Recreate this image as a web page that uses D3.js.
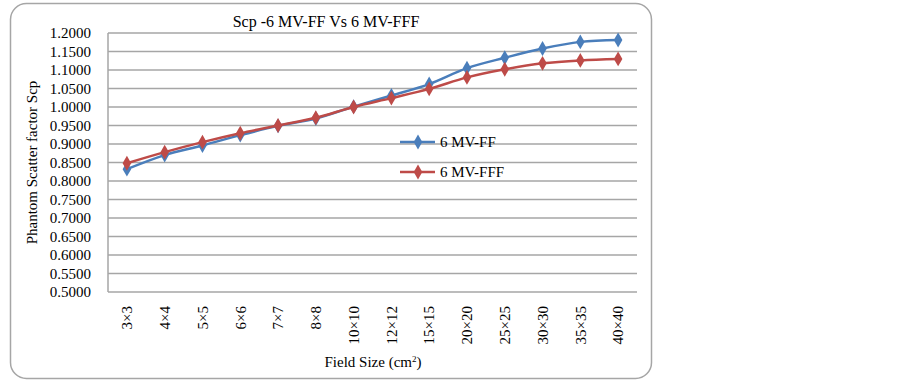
<!DOCTYPE html>
<html>
<head>
<meta charset="utf-8">
<script src="https://cdn.jsdelivr.net/npm/d3@7"></script>
<style>
  body { margin: 0; background: #fff; }
  svg text { font-family: 'Liberation Serif', 'Times New Roman', Times, serif !important; fill: #000; }
</style>
</head>
<body>
<div id="chart"></div>
<script>
var width = 903, height = 382;

// Data
var fieldSizes = ["3×3", "4×4", "5×5", "6×6", "7×7", "8×8", "10×10", "12×12", "15×15", "20×20", "25×25", "30×30", "35×35", "40×40"];
var scpFF  = [0.832, 0.870, 0.896, 0.924, 0.949, 0.969, 1.001, 1.031, 1.062, 1.105, 1.133, 1.158, 1.176, 1.181];
var scpFFF = [0.848, 0.878, 0.905, 0.929, 0.950, 0.971, 1.000, 1.024, 1.049, 1.080, 1.102, 1.118, 1.126, 1.130];
var yTicks = [0.50, 0.55, 0.60, 0.65, 0.70, 0.75, 0.80, 0.85, 0.90, 0.95, 1.00, 1.05, 1.10, 1.15, 1.20];
var seriesNames = ["6 MV-FF", "6 MV-FFF"];
var seriesColors = ["#4a7ebb", "#be4b48"];

var margin = {left: 108, right: 266, top: 33, bottom: 90};
var plotW = width - margin.left - margin.right,
    plotH = height - margin.top - margin.bottom;
var fs = "15px";

var svg = d3.select("#chart").append("svg")
    .attr("width", width)
    .attr("height", height)
    .attr("font-family", "Liberation Serif, serif");

// outer rounded frame
svg.append("rect")
    .attr("x", 10.5).attr("y", 3.5)
    .attr("width", 641).attr("height", 375)
    .attr("rx", 16).attr("ry", 16)
    .attr("fill", "#fff")
    .attr("stroke", "#a6a6a6")
    .attr("stroke-width", 1.5);

var g = svg.append("g").attr("transform", "translate(" + margin.left + "," + margin.top + ")");

var x = d3.scaleBand().domain(fieldSizes).range([0, plotW]);
var y = d3.scaleLinear().domain([0.5, 1.2]).range([plotH, 0]);

// gridlines
g.append("g")
  .selectAll("line")
  .data(yTicks)
  .enter().append("line")
    .attr("x1", 0).attr("x2", plotW)
    .attr("y1", function(d) { return y(d); })
    .attr("y2", function(d) { return y(d); })
    .attr("stroke", "#a6a6a6")
    .attr("stroke-width", 1.5);

// left axis line
g.append("line")
    .attr("x1", 0).attr("x2", 0)
    .attr("y1", 0).attr("y2", plotH)
    .attr("stroke", "#a6a6a6")
    .attr("stroke-width", 1.5);

// y tick labels
var yAxis = d3.axisLeft(y).tickValues(yTicks).tickSize(0).tickPadding(17)
    .tickFormat(d3.format(".4f"));
var ya = g.append("g").call(yAxis).attr("font-family", null).attr("font-size", null);
ya.select(".domain").remove();
ya.selectAll("text").style("font-size", fs);

// x tick labels (rotated)
var xAxis = d3.axisBottom(x).tickSize(0).tickPadding(0);
var xa = g.append("g").attr("transform", "translate(0," + plotH + ")").call(xAxis)
    .attr("font-family", null).attr("font-size", null);
xa.select(".domain").remove();
xa.selectAll("text")
    .style("font-size", fs)
    .attr("text-anchor", "end")
    .attr("dy", "0.35em")
    .attr("transform", "translate(0,14) rotate(-90)")
    .attr("x", 0).attr("y", 0);

// lines + markers
var allSeries = [scpFF, scpFFF];
var line = d3.line()
    .x(function(d, i) { return x(fieldSizes[i]) + x.bandwidth() / 2; })
    .y(function(d) { return y(d); })
    .curve(d3.curveCatmullRom.alpha(0.5));

var diamond = d3.symbol().type(d3.symbolDiamond).size(64);

allSeries.forEach(function(vals, s) {
  g.append("path")
    .datum(vals)
    .attr("fill", "none")
    .attr("stroke", seriesColors[s])
    .attr("stroke-width", 2.5)
    .attr("d", line);
  g.selectAll(".m" + s)
    .data(vals)
    .enter().append("path")
      .attr("class", "m" + s)
      .attr("transform", function(d, i) {
        return "translate(" + (x(fieldSizes[i]) + x.bandwidth() / 2) + "," + y(d) + ")";
      })
      .attr("d", diamond)
      .attr("fill", seriesColors[s]);
});

// legend
var legend = svg.append("g").attr("transform", "translate(400,142)");
seriesNames.forEach(function(name, s) {
  var lg = legend.append("g").attr("transform", "translate(0," + (s * 30) + ")");
  lg.append("line").attr("x1", 0).attr("x2", 35).attr("y1", 0).attr("y2", 0)
    .attr("stroke", seriesColors[s]).attr("stroke-width", 2.5);
  lg.append("path").attr("transform", "translate(18,0)").attr("d", diamond)
    .attr("fill", seriesColors[s]);
  lg.append("text").attr("x", 40).attr("y", 0).attr("dy", "0.35em")
    .style("font-size", fs).text(name);
});

// title
svg.append("text")
    .attr("x", 326).attr("y", 27)
    .attr("text-anchor", "middle")
    .style("font-size", "16px")
    .text("Scp -6 MV-FF Vs 6 MV-FFF");

// y title
svg.append("text")
    .attr("transform", "translate(37," + (margin.top + plotH / 2) + ") rotate(-90)")
    .attr("text-anchor", "middle")
    .style("font-size", fs)
    .text("Phantom Scatter factor Scp");

// x title
var xt = svg.append("text")
    .attr("x", 373).attr("y", 367)
    .attr("text-anchor", "middle")
    .style("font-size", fs);
xt.append("tspan").text("Field Size (cm");
xt.append("tspan").attr("dy", "-5").style("font-size", "9px").text("2");
xt.append("tspan").attr("dy", "5").text(")");
</script>
</body>
</html>
